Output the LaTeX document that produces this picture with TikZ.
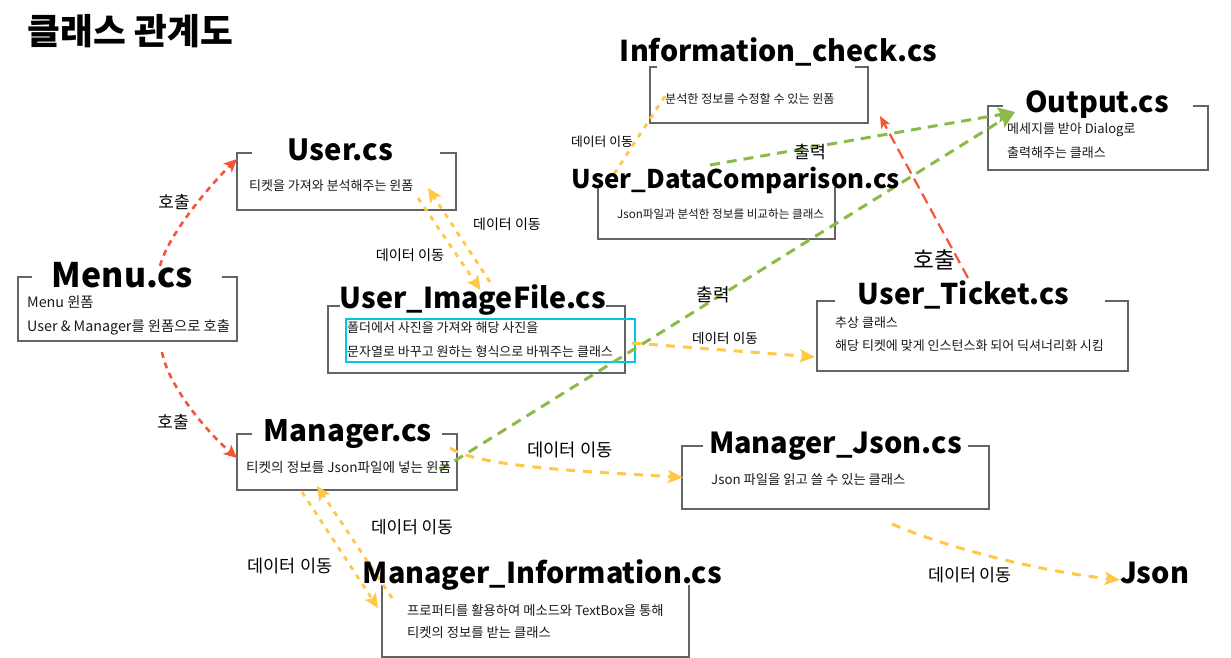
\documentclass[tikz,border=0pt]{standalone}
\usepackage{fontspec}
\setmainfont{Noto Sans CJK KR}
\usepackage{graphicx}
\usetikzlibrary{arrows.meta}
\definecolor{redc}{RGB}{245,85,55}
\definecolor{yelc}{RGB}{255,200,70}
\definecolor{grnc}{RGB}{140,186,72}
\definecolor{cyanc}{RGB}{0,200,225}
\definecolor{frameg}{RGB}{100,100,100}
\newcommand\cltitle[2]{\resizebox{#1pt}{!}{\bfseries #2}}
\newcommand\bodyf[1]{\fontsize{#1}{#1}\selectfont}
\begin{document}
\begin{tikzpicture}[x=1pt,y=-1pt,
  boxn/.style={draw=none,inner sep=0pt,outer sep=0pt},
  frame/.style={draw=frameg,line width=1.6pt},
  ttl/.style={inner sep=0pt,anchor=base},
  body/.style={inner sep=0pt,anchor=west,text=black!90},
  lbl/.style={inner sep=0pt,text=black},
  redarr/.style={draw=redc,line width=2.6pt,dash pattern=on 6pt off 5pt,-{Stealth[length=13pt,width=12pt,inset=3pt]}},
  redlong/.style={draw=redc,line width=2.2pt,dash pattern=on 11pt off 6pt,-{Stealth[length=12pt,width=10pt,inset=3pt]}},
  yeldot/.style={draw=yelc,line width=2.8pt,dash pattern=on 5pt off 6pt},
  yeldotarr/.style={yeldot,-{Stealth[length=14pt,width=13pt,inset=3pt]}},
  yelarr/.style={draw=yelc,line width=3pt,dash pattern=on 9pt off 8pt,-{Stealth[length=15pt,width=13pt,inset=3pt]}},
  grnarr/.style={draw=grnc,line width=3pt,dash pattern=on 10pt off 7pt,-{Stealth[length=17pt,width=15pt,inset=3pt]}},
  hlbox/.style={draw=cyanc,line width=1.5pt}
]
\useasboundingbox (0,0) rectangle (1231,658);

% ---- box frames (nodes) ----
\node[boxn,minimum width=219pt,minimum height=64pt] (menu) at (127.5,309) {};
\node[boxn,minimum width=219pt,minimum height=57pt] (user) at (346.5,181.5) {};
\node[boxn,minimum width=297pt,minimum height=67pt] (imgf) at (476.5,339.5) {};
\node[boxn,minimum width=218pt,minimum height=56pt] (info) at (759,95) {};
\node[boxn,minimum width=237pt,minimum height=52pt] (datac) at (716.5,213) {};
\node[boxn,minimum width=220pt,minimum height=64pt] (output) at (1098,138) {};
\node[boxn,minimum width=311pt,minimum height=70pt] (ticket) at (972.5,336) {};
\node[boxn,minimum width=220pt,minimum height=56pt] (manager) at (347,462) {};
\node[boxn,minimum width=307pt,minimum height=63pt] (mjson) at (835.5,477.5) {};
\node[boxn,minimum width=307pt,minimum height=72pt] (minfo) at (535.5,621) {};

\draw[frame] ([xshift=14pt]menu.north west) -- (menu.north west) -- (menu.south west) -- (menu.south east) -- (menu.north east) -- ([xshift=-15pt]menu.north east);
\draw[frame] ([xshift=15pt]user.north west) -- (user.north west) -- (user.south west) -- (user.south east) -- (user.north east) -- ([xshift=-16pt]user.north east);
\draw[frame] ([xshift=12pt]imgf.north west) -- (imgf.north west) -- (imgf.south west) -- (imgf.south east) -- (imgf.north east) -- ([xshift=-19pt]imgf.north east);
\draw[frame] ([xshift=7pt]info.north west) -- (info.north west) -- (info.south west) -- (info.south east) -- (info.north east) -- ([xshift=-13pt]info.north east);
\draw[frame] (datac.north west) -- (datac.south west) -- (datac.south east) -- (datac.north east);
\draw[frame] ([xshift=15pt]output.north west) -- (output.north west) -- (output.south west) -- (output.south east) -- (output.north east) -- ([xshift=-15pt]output.north east);
\draw[frame] ([xshift=18pt]ticket.north west) -- (ticket.north west) -- (ticket.south west) -- (ticket.south east) -- (ticket.north east) -- ([xshift=-23pt]ticket.north east);
\draw[frame] ([xshift=15pt]manager.north west) -- (manager.north west) -- (manager.south west) -- (manager.south east) -- (manager.north east) -- ([xshift=-15pt]manager.north east);
\draw[frame] ([xshift=21pt]mjson.north west) -- (mjson.north west) -- (mjson.south west) -- (mjson.south east) -- (mjson.north east) -- ([xshift=-21pt]mjson.north east);
\draw[frame] (minfo.north west) -- (minfo.south west) -- (minfo.south east) -- (minfo.north east);

\draw[hlbox] (346,319) rectangle (635,362);

% ---- connector end points ----
\coordinate (m1) at (160,266);
\coordinate (m2) at (162,352);
\coordinate (u1) at (418,198);
\coordinate (i1) at (490,282);
\coordinate (t1) at (968,278);
\coordinate (d1) at (614,174);
\coordinate (d2) at (710,165);
\coordinate (g1) at (440,470);
\coordinate (i2) at (632,343);
\coordinate (g2) at (450,448);
\coordinate (g3) at (302,492);
\coordinate (n1) at (392,598);
\coordinate (j1) at (892,524);
\coordinate (jtip) at (1120,580);

% ---- connectors ----
\draw[redarr] (m1) .. controls (168,235) and (210,185) .. ([shift={(0,6)}]user.north west);
\draw[redarr] (m2) .. controls (168,385) and (205,430) .. ([shift={(0,-4)}]manager.west);
\draw[yeldotarr] (u1) -- ([shift={(4,-16)}]imgf.north);
\draw[yeldotarr] (i1) -- ([shift={(-28,6.5)}]user.east);
\draw[redlong] (t1) -- ([shift={(12,-7)}]info.south east);
\draw[yeldot] (d1) -- ([shift={(15,29)}]info.north west);
\draw[grnarr] (d2) -- ([shift={(27,6)}]output.north west);
\draw[grnarr] (g1) -- ([shift={(27,6)}]output.north west);
\draw[yelarr] (i2) -- ([shift={(-2,21)}]ticket.west);
\draw[yelarr] (g2) .. controls (480,468) and (600,472) .. ([shift={(1,0)}]mjson.west);
\draw[yeldotarr] (g3) -- ([shift={(-4,-13)}]minfo.west);
\draw[yeldotarr] (n1) -- ([shift={(80,52)}]manager.north west);
\draw[yelarr] (j1) .. controls (940,545) and (1030,570) .. (jtip);

% ---- titles ----
\node[ttl] (title) at (130.5,45) {\cltitle{205}{클래스 관계도}};
\node[ttl] (menut) at (122.5,287) {\cltitle{141}{Menu.cs}};
\node[ttl] (usert) at (340.5,160) {\cltitle{105}{User.cs}};
\node[ttl] (imgft) at (473,308) {\cltitle{266}{User\_ImageFile.cs}};
\node[ttl] (infot) at (778.5,62) {\cltitle{317}{Information\_check.cs}};
\node[ttl] (datact) at (736,188) {\cltitle{328}{User\_DataComparison.cs}};
\node[ttl] (outputt) at (1097,113) {\cltitle{144}{Output.cs}};
\node[ttl] (tickett) at (963.5,304) {\cltitle{211}{User\_Ticket.cs}};
\node[ttl] (managert) at (348,441) {\cltitle{168}{Manager.cs}};
\node[ttl] (mjsont) at (835.5,453) {\cltitle{253}{Manager\_Json.cs}};
\node[ttl] (minfot) at (542.5,583) {\cltitle{359}{Manager\_Information.cs}};
\node[ttl] (json) at (1154.5,583) {\cltitle{69}{Json}};

% ---- body texts ----
\node[body] (menub1) at (27,302) {\bodyf{14.3}Menu 윈폼};
\node[body] (menub2) at (27,327) {\bodyf{14.3}User \& Manager를 윈폼으로 호출};
\node[body] (userb) at (249,186) {\bodyf{13}티켓을 가져와 분석해주는 윈폼};
\node[body] (imgfb1) at (347,328) {\bodyf{13}폴더에서 사진을 가져와 해당 사진을};
\node[body] (imgfb2) at (347,352) {\bodyf{13}문자열로 바꾸고 원하는 형식으로 바꿔주는 클래스};
\node[body] (infob) at (665,99) {\bodyf{12.1}분석한 정보를 수정할 수 있는 윈폼};
\node[body] (datacb) at (617,214) {\bodyf{11.6}Json파일과 분석한 정보를 비교하는 클래스};
\node[body] (outputb1) at (1007,130) {\bodyf{13}메세지를 받아 Dialog로};
\node[body] (outputb2) at (1007,153) {\bodyf{13}출력해주는 클래스};
\node[body] (ticketb1) at (835,323) {\bodyf{13}추상 클래스};
\node[body] (ticketb2) at (835,346) {\bodyf{13}해당 티켓에 맞게 인스턴스화 되어 딕셔너리화 시킴};
\node[body] (managerb) at (246,467) {\bodyf{13.6}티켓의 정보를 Json파일에 넣는 윈폼};
\node[body] (mjsonb) at (711,480) {\bodyf{13.3}Json 파일을 읽고 쓸 수 있는 클래스};
\node[body] (minfob1) at (407,610) {\bodyf{13.3}프로퍼티를 활용하여 메소드와 TextBox을 통해};
\node[body] (minfob2) at (407,633) {\bodyf{13.3}티켓의 정보를 받는 클래스};

% ---- connector labels ----
\node[lbl] (l1) at (174,202) {\bodyf{17}호출};
\node[lbl] (l2) at (173,422) {\bodyf{17}호출};
\node[lbl] (l3) at (507,224) {\bodyf{14}데이터 이동};
\node[lbl] (l4) at (410,255) {\bodyf{14.2}데이터 이동};
\node[lbl] (l5) at (602,142) {\bodyf{12.8}데이터 이동};
\node[lbl] (l6) at (810,152) {\bodyf{17.2}출력};
\node[lbl] (l7) at (934,260) {\bodyf{22.6}호출};
\node[lbl] (l8) at (713,295) {\bodyf{18}출력};
\node[lbl] (l9) at (725,338) {\bodyf{13.6}데이터 이동};
\node[lbl] (l10) at (570,450) {\bodyf{17.7}데이터 이동};
\node[lbl] (l11) at (412,527) {\bodyf{17}데이터 이동};
\node[lbl] (l12) at (290,566) {\bodyf{17.5}데이터 이동};
\node[lbl] (l13) at (970,575) {\bodyf{17.4}데이터 이동};
\end{tikzpicture}
\end{document}
